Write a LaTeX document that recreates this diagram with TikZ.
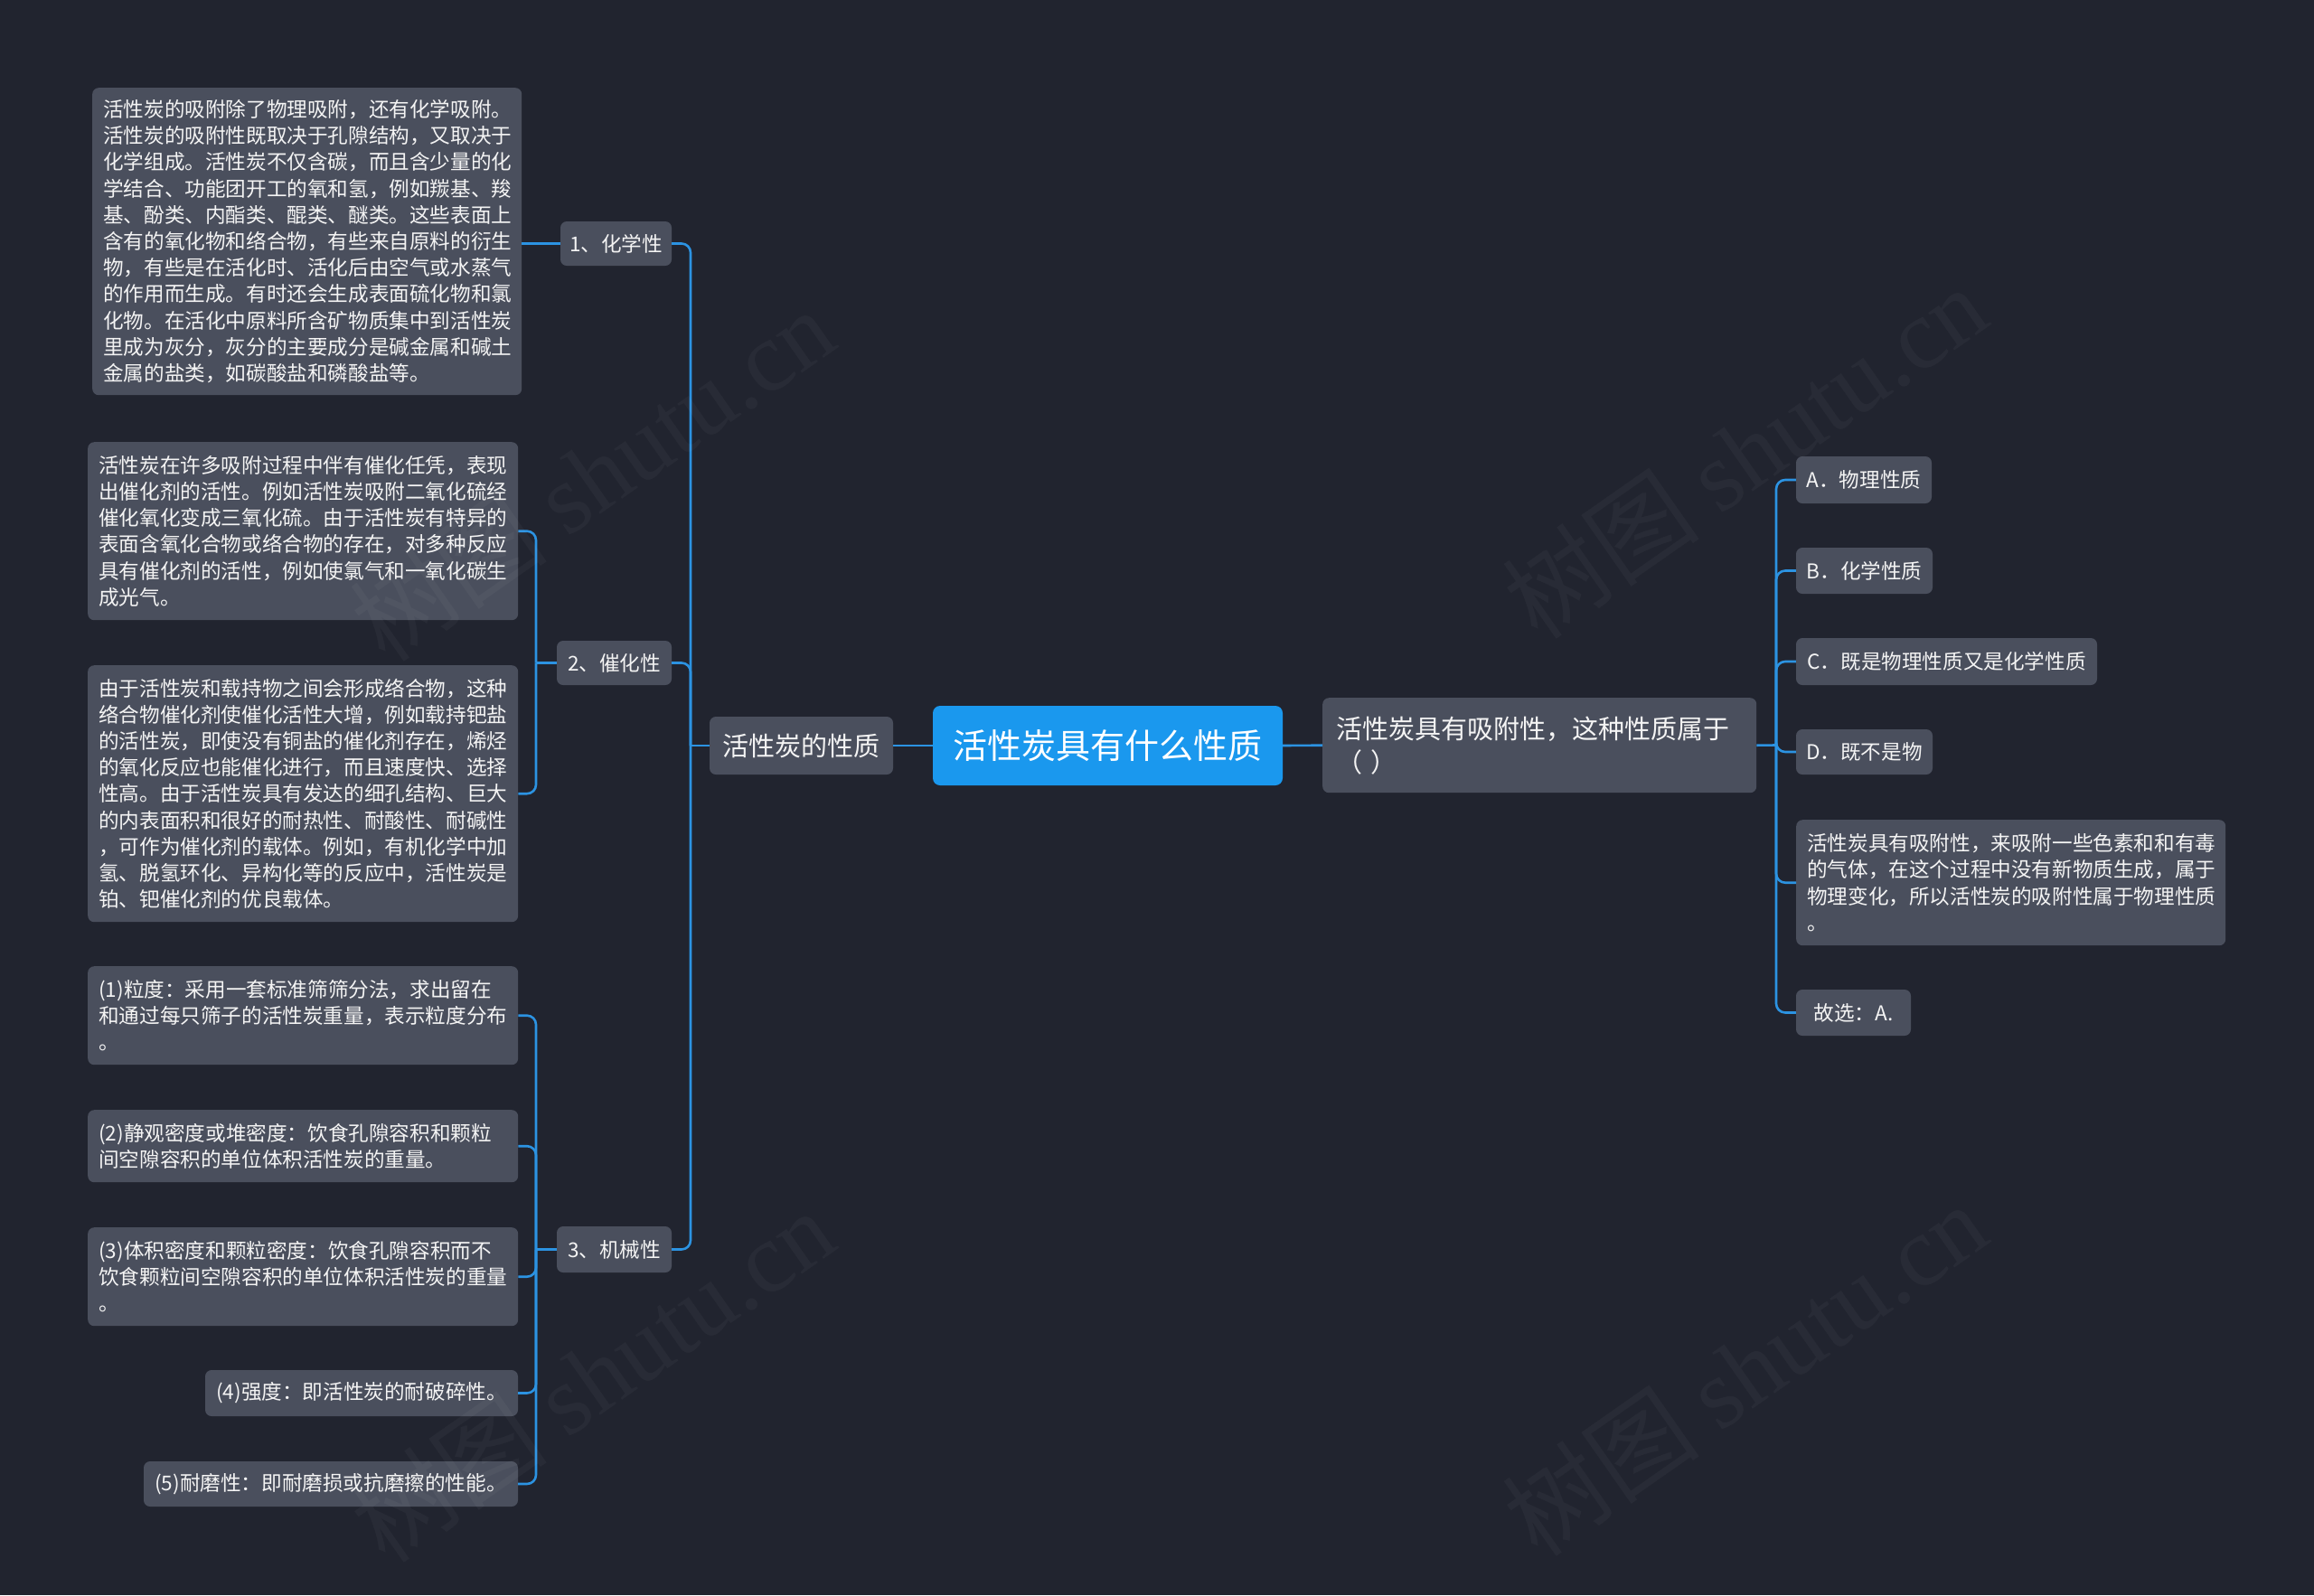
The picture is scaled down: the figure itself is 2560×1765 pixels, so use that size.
\documentclass[tikz,border=0pt]{standalone}
\usepackage{fontspec}
\newfontfamily\cjk{Noto Sans CJK SC}
\newfontfamily\wmserif{Liberation Serif}
\definecolor{bgc}{HTML}{21242F}
\definecolor{boxc}{HTML}{4A4F5D}
\definecolor{txtc}{HTML}{F4F4F4}
\definecolor{linec}{HTML}{2C93E2}
\definecolor{rootc}{HTML}{1A98EE}
\tikzset{
  box/.style={fill=boxc, text=txtc, rounded corners=7pt, inner sep=0pt,
    font=\cjk\fontsize{22.6}{29.2}\selectfont},
  para/.style={box, align=left, anchor=north west, inner xsep=12pt},
  conn/.style={draw=linec, line width=2.6pt, rounded corners=10pt},
  wmark/.style={text=white, text opacity=0.035, rotate=35, inner sep=0pt},
}
\newcommand{\wmtext}{\cjk\fontsize{110}{110}\selectfont 树图 \wmserif shutu.cn}
\begin{document}
\begin{tikzpicture}[x=1pt,y=-1pt]
\fill[bgc] (0,0) rectangle (2560,1765);
\useasboundingbox (0,0) rectangle (2560,1765);

% root
\node[fill=rootc, text=white, rounded corners=8pt, inner sep=0pt,
  minimum width=387, minimum height=88,
  font=\cjk\fontsize{38}{44}\selectfont] (root) at (1225.5,825) {活性炭具有什么性质};

% question
\node[box, align=left, anchor=north west, inner xsep=15pt, text width=450,
  minimum height=105, font=\cjk\fontsize{29}{37}\selectfont] (q) at (1463,772)
  {活性炭具有吸附性，这种性质属于\\（ ）};

% level 1 left
\node[box, minimum width=203, minimum height=64,
  font=\cjk\fontsize{29}{37}\selectfont] (l1) at (886.5,825) {活性炭的性质};

% level 2
\node[box, minimum width=123, minimum height=49] (n1) at (681.5,269.5) {1、化学性};
\node[box, minimum width=127, minimum height=49] (n2) at (679.5,733.5) {2、催化性};
\node[box, minimum width=127, minimum height=51] (n3) at (679.5,1382.5) {3、机械性};

% level 3
\node[para, text width=451, minimum height=340] (c1) at (102,97)
{活性炭的吸附除了物理吸附，还有化学吸附。\\
活性炭的吸附性既取决于孔隙结构，又取决于\\
化学组成。活性炭不仅含碳，而且含少量的化\\
学结合、功能团开工的氧和氢，例如羰基、羧\\
基、酚类、内酯类、醌类、醚类。这些表面上\\
含有的氧化物和络合物，有些来自原料的衍生\\
物，有些是在活化时、活化后由空气或水蒸气\\
的作用而生成。有时还会生成表面硫化物和氯\\
化物。在活化中原料所含矿物质集中到活性炭\\
里成为灰分，灰分的主要成分是碱金属和碱土\\
金属的盐类，如碳酸盐和磷酸盐等。};

\node[para, text width=452, minimum height=197] (k1) at (97,489)
{活性炭在许多吸附过程中伴有催化任凭，表现\\
出催化剂的活性。例如活性炭吸附二氧化硫经\\
催化氧化变成三氧化硫。由于活性炭有特异的\\
表面含氧化合物或络合物的存在，对多种反应\\
具有催化剂的活性，例如使氯气和一氧化碳生\\
成光气。};

\node[para, text width=452, minimum height=284] (k2) at (97,736)
{由于活性炭和载持物之间会形成络合物，这种\\
络合物催化剂使催化活性大增，例如载持钯盐\\
的活性炭，即使没有铜盐的催化剂存在，烯烃\\
的氧化反应也能催化进行，而且速度快、选择\\
性高。由于活性炭具有发达的细孔结构、巨大\\
的内表面积和很好的耐热性、耐酸性、耐碱性\\
，可作为催化剂的载体。例如，有机化学中加\\
氢、脱氢环化、异构化等的反应中，活性炭是\\
铂、钯催化剂的优良载体。};

\node[para, text width=452, minimum height=109] (m1) at (97,1069)
{(1)粒度：采用一套标准筛筛分法，求出留在\\
和通过每只筛子的活性炭重量，表示粒度分布\\
。};
\node[para, text width=452, minimum height=80] (m2) at (97,1228)
{(2)静观密度或堆密度：饮食孔隙容积和颗粒\\
间空隙容积的单位体积活性炭的重量。};
\node[para, text width=452, minimum height=109] (m3) at (97,1358)
{(3)体积密度和颗粒密度：饮食孔隙容积而不\\
饮食颗粒间空隙容积的单位体积活性炭的重量\\
。};
\node[box, minimum width=346, minimum height=51] (m4) at (400,1541.5) {(4)强度：即活性炭的耐破碎性。};
\node[box, minimum width=414, minimum height=50] (m5) at (366,1642) {(5)耐磨性：即耐磨损或抗磨擦的性能。};

% right side
\node[box, minimum width=150, minimum height=52] (a) at (2062,531) {A．物理性质};
\node[box, minimum width=151, minimum height=51] (b) at (2062.5,631.5) {B．化学性质};
\node[box, minimum width=333, minimum height=52] (c) at (2153.5,732) {C．既是物理性质又是化学性质};
\node[box, minimum width=151, minimum height=50] (d) at (2062.5,832) {D．既不是物};
\node[para, text width=451, minimum height=139] (e) at (1987,907)
{活性炭具有吸附性，来吸附一些色素和和有毒\\
的气体，在这个过程中没有新物质生成，属于\\
物理变化，所以活性炭的吸附性属于物理性质\\
。};
\node[box, minimum width=127, minimum height=51] (f) at (2050.5,1120.5) {故选：A.};

% connectors
\draw[conn] (root.west) -- (l1.east);
\draw[conn] (root.east) -- (q.west);

\coordinate (jL) at (764,825);
\draw[conn] (l1.west) -- (jL);
\draw[conn] (jL) |- (n1.east);
\draw[conn] (jL) |- (n2.east);
\draw[conn] (jL) |- (n3.east);

\draw[conn] (n1.west) -- (n1.west -| c1.east);

\coordinate (jK) at (593,733.5);
\draw[conn] (n2.west) -- (jK);
\draw[conn] (jK) |- (k1.east);
\draw[conn] (jK) |- (k2.east);

\coordinate (jM) at (593,1382.5);
\draw[conn] (n3.west) -- (jM);
\draw[conn] (jM) |- (m1.east);
\draw[conn] (jM) |- (m2.east);
\draw[conn] (jM) |- (m3.east);
\draw[conn] (jM) |- (m4.east);
\draw[conn] (jM) |- (m5.east);

\coordinate (jR) at (1965,824.5);
\draw[conn] (q.east) -- (jR);
\draw[conn] (jR) |- (a.west);
\draw[conn] (jR) |- (b.west);
\draw[conn] (jR) |- (c.west);
\draw[conn] (jR) |- (d.west);
\draw[conn] (jR) |- (e.west);
\draw[conn] (jR) |- (f.west);

% watermarks (faint, on top)
\node[wmark] (w1) at (655,525) {\wmtext};
\node[wmark] (w2) at (1930,500) {\wmtext};
\node[wmark] (w3) at (655,1522) {\wmtext};
\node[wmark] (w4) at (1930,1515) {\wmtext};
\end{tikzpicture}
\end{document}
